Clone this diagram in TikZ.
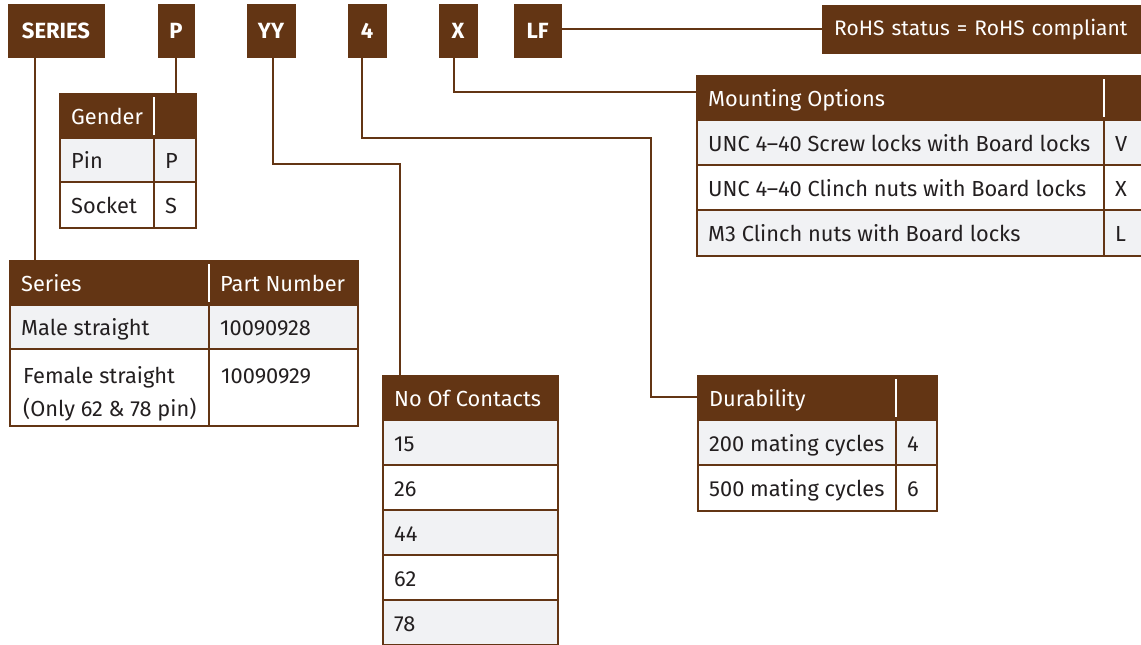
\documentclass[tikz,border=0pt]{standalone}
\usepackage{fontspec}
\setmainfont{Fira Sans}
\definecolor{brn}{HTML}{633514}
\definecolor{rowg}{HTML}{F1F2F4}
\definecolor{ink}{HTML}{231F20}
\newcommand\bodyfont{\fontsize{21.8}{33}\selectfont}
\tikzset{
  topbox/.style={fill=brn, draw=brn, text=white, font=\fontsize{22}{26}\selectfont\bfseries, inner sep=0pt},
  cellbox/.style={draw=brn, line width=2pt, inner sep=0pt},
  hcell/.style={cellbox, fill=brn},
  gcell/.style={cellbox, fill=rowg},
  wcell/.style={cellbox, fill=white},
  ctext/.style={inner sep=0pt, anchor=base west, text=ink, font=\bodyfont},
  htext/.style={ctext, text=white},
  conn/.style={draw=brn, line width=2pt},
  hdiv/.style={draw=white, line width=2pt},
}
% style, name, x1, y1, x2, y2
\newcommand\mkcell[6]{%
  \node[#1, minimum width={(#5-#3)*1pt}, minimum height={(#6-#4)*1pt}] (#2) at ({(#3+#5)/2},{(#4+#6)/2}) {};}
% cell name, text style, text
\newcommand\mktext[3]{%
  \node[#2] (#1t) at ([xshift=12pt,yshift=-8.5pt]#1.west) {#3};}
\begin{document}
\begin{tikzpicture}[x=1pt,y=-1pt]
\clip (0,0) rectangle (1141,645);
\fill[white] (0,0) rectangle (1141,645);

% top code boxes
\node[topbox, minimum width=96pt, minimum height=53pt] (tSeries) at (56,30.5) {SERIES};
\node[topbox, minimum width=36pt, minimum height=53pt] (tP) at (176,30.5) {P};
\node[topbox, minimum width=48pt, minimum height=53pt] (tYY) at (271,30.5) {YY};
\node[topbox, minimum width=38pt, minimum height=53pt] (t4) at (367,30.5) {4};
\node[topbox, minimum width=38pt, minimum height=53pt] (tX) at (458,30.5) {X};
\node[topbox, minimum width=47pt, minimum height=53pt] (tLF) at (537.5,30.5) {LF};
\node[fill=brn, draw=brn, text=white, font=\fontsize{21}{26}\selectfont, inner xsep=12pt, inner ysep=0pt,
      text width=310pt, align=left, minimum height=48pt, anchor=north west] (rohs) at (822,5)
      {RoHS status = RoHS compliant};

% Gender table
\mkcell{hcell}{gh1}{60}{94}{154}{138}
\mkcell{hcell}{gh2}{154}{94}{196}{138}
\mkcell{gcell}{ga1}{60}{138}{154}{182}
\mkcell{gcell}{gb1}{154}{138}{196}{182}
\mkcell{wcell}{ga2}{60}{182}{154}{228}
\mkcell{wcell}{gb2}{154}{182}{196}{228}
\draw[hdiv] (154,97) -- (154,135);
\mktext{gh1}{htext}{Gender}
\mktext{ga1}{ctext}{Pin}
\mktext{gb1}{ctext}{P}
\mktext{ga2}{ctext}{Socket}
\mktext{gb2}{ctext}{S}

% Series table
\mkcell{hcell}{sh1}{10}{261}{209}{305}
\mkcell{hcell}{sh2}{209}{261}{358}{305}
\mkcell{gcell}{sa1}{10}{305}{209}{349}
\mkcell{gcell}{sb1}{209}{305}{358}{349}
\mkcell{wcell}{sa2}{10}{349}{209}{426}
\mkcell{wcell}{sb2}{209}{349}{358}{426}
\draw[hdiv] (209,264) -- (209,302);
\mktext{sh1}{htext}{Series}
\mktext{sh2}{htext}{Part Number}
\mktext{sa1}{ctext}{Male straight}
\mktext{sb1}{ctext}{10090928}
\node[ctext, anchor=base west, align=left] (sa2t) at (23,416) {Female straight\\(Only 62 \& 78 pin)};
\node[ctext] (sb2t) at (221,383) {10090929};

% Contacts table
\mkcell{hcell}{ch}{383}{376}{558}{420}
\mkcell{gcell}{c1}{383}{420}{558}{465}
\mkcell{wcell}{c2}{383}{465}{558}{510}
\mkcell{gcell}{c3}{383}{510}{558}{555}
\mkcell{wcell}{c4}{383}{555}{558}{600}
\mkcell{gcell}{c5}{383}{600}{558}{645}
\mkcell{wcell}{c6}{383}{645}{558}{690}
\mktext{ch}{htext}{No Of Contacts}
\mktext{c1}{ctext}{15}
\mktext{c2}{ctext}{26}
\mktext{c3}{ctext}{44}
\mktext{c4}{ctext}{62}
\mktext{c5}{ctext}{78}

% Mounting table
\mkcell{hcell}{mh1}{697}{76}{1104}{120}
\mkcell{hcell}{mh2}{1104}{76}{1160}{120}
\mkcell{gcell}{ma1}{697}{120}{1104}{165}
\mkcell{gcell}{mb1}{1104}{120}{1160}{165}
\mkcell{wcell}{ma2}{697}{165}{1104}{210}
\mkcell{wcell}{mb2}{1104}{165}{1160}{210}
\mkcell{gcell}{ma3}{697}{210}{1104}{256}
\mkcell{gcell}{mb3}{1104}{210}{1160}{256}
\draw[hdiv] (1104,79) -- (1104,117);
\mktext{mh1}{htext}{Mounting Options}
\mktext{ma1}{ctext}{UNC 4--40 Screw locks with Board locks}
\mktext{mb1}{ctext}{V}
\mktext{ma2}{ctext}{UNC 4--40 Clinch nuts with Board locks}
\mktext{mb2}{ctext}{X}
\mktext{ma3}{ctext}{M3 Clinch nuts with Board locks}
\mktext{mb3}{ctext}{L}

% Durability table
\mkcell{hcell}{dh1}{698}{376}{896}{420}
\mkcell{hcell}{dh2}{896}{376}{937}{420}
\mkcell{gcell}{da1}{698}{420}{896}{465}
\mkcell{gcell}{db1}{896}{420}{937}{465}
\mkcell{wcell}{da2}{698}{465}{896}{511}
\mkcell{wcell}{db2}{896}{465}{937}{511}
\draw[hdiv] (896,379) -- (896,417);
\mktext{dh1}{htext}{Durability}
\mktext{da1}{ctext}{200 mating cycles}
\mktext{db1}{ctext}{4}
\mktext{da2}{ctext}{500 mating cycles}
\mktext{db2}{ctext}{6}

% connectors
\coordinate (yyturn) at (400,164);
\coordinate (fourturn) at (651,138);
\draw[conn] ([xshift=-21pt]tSeries.south) -- ([xshift=-21pt]tSeries.south |- sh1.north);
\draw[conn] (tP.south) -- (tP.south |- gh2.north);
\draw[conn] ([xshift=2pt]tYY.south) |- (yyturn) -- (yyturn |- ch.north);
\draw[conn] ([xshift=-5pt]t4.south) |- (fourturn) |- ([yshift=1pt]dh1.west);
\draw[conn] ([xshift=-4pt]tX.south) |- ([yshift=6pt]mh1.west);
\draw[conn] ([yshift=2pt]tLF.east) -- ([yshift=2pt]tLF.east -| rohs.west);
\end{tikzpicture}
\end{document}
